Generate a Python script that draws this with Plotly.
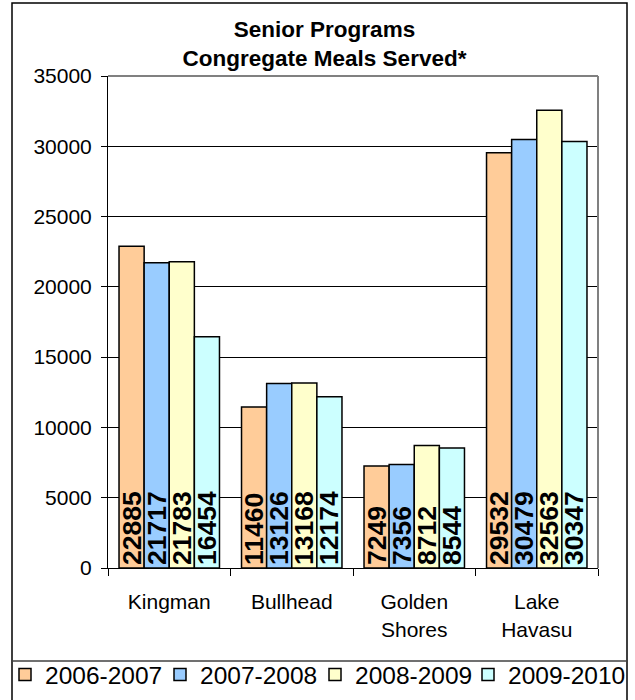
import plotly.graph_objects as go

categories = ["Kingman", "Bullhead", "Golden Shores", "Lake Havasu"]
category_labels = ["Kingman", "Bullhead", "Golden<br>Shores", "Lake<br>Havasu"]
series_names = ["2006-2007", "2007-2008", "2008-2009", "2009-2010"]
meals_2006_2007 = [22885, 11460, 7249, 29532]
meals_2007_2008 = [21717, 13126, 7356, 30479]
meals_2008_2009 = [21783, 13168, 8712, 32563]
meals_2009_2010 = [16454, 12174, 8544, 30347]
y_ticks = [0, 5000, 10000, 15000, 20000, 25000, 30000, 35000]

colors = ["#FFCC99", "#99CCFF", "#FFFFCC", "#CCFFFF"]
series = [meals_2006_2007, meals_2007_2008, meals_2008_2009, meals_2009_2010]

FONT = "Liberation Sans, Arial, sans-serif"
W, H = 635, 700
L, R, T, B = 108, 598, 76, 568  # plot area in pixels


def px_x(p):
    return (p - L) / (R - L)


def px_y(p):
    return (B - p) / (B - T)


legend_ids = ["legend", "legend2", "legend3", "legend4"]
legend_px = [5, 160, 315, 468]

fig = go.Figure()
for name, vals, col, lid in zip(series_names, series, colors, legend_ids):
    fig.add_trace(go.Bar(
        name=name,
        x=categories,
        y=vals,
        text=[str(v) for v in vals],
        textposition="inside",
        insidetextanchor="start",
        textangle=-90,
        textfont=dict(family=FONT, size=26.5, color="black", weight="bold"),
        marker=dict(color=col, line=dict(color="black", width=1.5)),
        hoverinfo="skip",
        legend=lid,
    ))

shapes = [
    # outer frame
    dict(type="rect", xref="paper", yref="paper",
         x0=px_x(12), x1=px_x(627), y0=px_y(703), y1=px_y(3),
         line=dict(color="black", width=1.5), fillcolor="rgba(0,0,0,0)", layer="above"),
    # legend separator
    dict(type="line", xref="paper", yref="paper",
         x0=px_x(12), x1=px_x(627), y0=px_y(661), y1=px_y(661),
         line=dict(color="#404040", width=1.5), layer="above"),
    # plot area top and right border (gray)
    dict(type="line", xref="paper", yref="paper", x0=0, x1=1, y0=1, y1=1,
         line=dict(color="#808080", width=2), layer="above"),
    dict(type="line", xref="paper", yref="paper", x0=1, x1=1, y0=0, y1=1,
         line=dict(color="#808080", width=2), layer="above"),
]

legend_common = dict(
    orientation="h",
    xref="container", yref="container",
    xanchor="left",
    y=1 - 652 / H, yanchor="top",
    font=dict(family=FONT, size=24.5, color="black"),
    bgcolor="rgba(0,0,0,0)", borderwidth=0,
)

layout_legends = {}
for lid, lx in zip(legend_ids, legend_px):
    layout_legends[lid] = dict(legend_common, x=lx / W)

fig.update_layout(
    width=W, height=H,
    margin=dict(l=L, r=W - R, t=T, b=H - B, pad=0, autoexpand=False),
    paper_bgcolor="white",
    plot_bgcolor="white",
    barmode="group",
    bargap=0.18,
    bargroupgap=0,
    uniformtext=dict(minsize=26.5, mode="show"),
    font=dict(family=FONT, color="black"),
    title=dict(
        text="Senior Programs<br>Congregate Meals Served*",
        font=dict(family=FONT, size=22.5, color="black", weight="bold"),
        x=324.5 / W, xref="container", xanchor="center",
        y=1 - 37 / H, yref="container", yanchor="middle",
    ),
    xaxis=dict(
        tickmode="array", tickvals=categories, ticktext=category_labels,
        tickson="boundaries", ticks="outside", ticklen=7, tickcolor="black",
        showline=True, linecolor="black", linewidth=1,
        tickfont=dict(family=FONT, size=21, color="black"),
        showgrid=False, ticklabelstandoff=15,
    ),
    yaxis=dict(
        range=[0, 35000], tickmode="array", tickvals=y_ticks,
        ticktext=[str(v) for v in y_ticks],
        ticks="outside", ticklen=6, tickcolor="black",
        showline=True, linecolor="black", linewidth=1,
        showgrid=True, gridcolor="black", gridwidth=1,
        zeroline=False,
        tickfont=dict(family=FONT, size=21, color="black"),
        ticklabelstandoff=5,
    ),
    shapes=shapes,
    showlegend=True,
    **layout_legends,
)

fig.write_html(
    "out.html",
    config={"displayModeBar": False},
    post_script="document.body.style.margin='0';document.body.style.overflow='hidden';",
)
